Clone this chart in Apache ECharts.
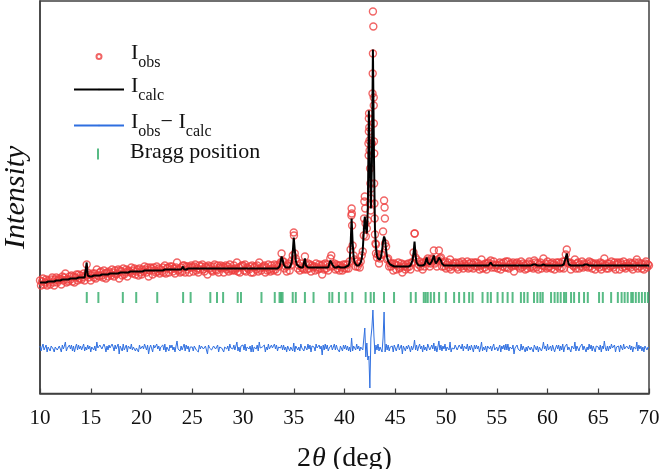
<!DOCTYPE html>
<html><head><meta charset="utf-8">
<script src="https://cdn.jsdelivr.net/npm/echarts@6/dist/echarts.min.js"></script>
<style>html,body{margin:0;padding:0;background:#fff}#c{width:661px;height:469px}</style>
</head><body><div id="c"></div>
<script>
// 2θ scan: first angle and step (deg)
const START = 10, STEP = 0.1;
const xTicks = [10, 15, 20, 25, 30, 35, 40, 45, 50, 55, 60, 65, 70];

// calculated intensity (a.u.), one value per step, rows = one degree
const iCalc = [
111,111,111,111,111,111,111,112,112,112,
112,112,112,112,112,113,113,113,113,113,
113,113,114,114,114,114,114,114,114,114,
115,115,115,115,115,115,115,115,116,116,
116,116,116,116,116,117,131,118,117,117,
117,117,117,118,118,118,118,118,118,118,
119,119,119,119,119,119,119,119,119,120,
120,120,120,120,120,120,120,120,121,121,
121,121,121,121,121,121,121,121,121,122,
122,122,122,122,122,122,122,122,122,122,
122,122,123,123,123,123,123,123,123,123,
123,123,123,123,123,123,123,123,123,123,
123,123,123,124,124,124,124,124,124,124,
124,124,124,124,124,124,124,124,124,124,
124,127,124,124,124,125,125,125,125,125,
125,125,125,125,125,125,125,125,125,125,
125,125,125,125,125,125,125,125,125,125,
125,125,125,125,125,125,125,125,125,125,
125,125,125,125,125,125,125,125,125,125,
125,125,125,125,125,125,125,125,125,125,
125,125,125,125,125,125,125,125,125,125,
125,125,125,125,125,125,125,125,125,125,
125,125,125,125,125,125,125,125,125,125,
125,125,125,125,125,126,127,131,137,134,
129,127,126,126,126,126,126,127,131,141,
156,144,133,129,127,127,126,126,126,126,
127,135,128,126,126,126,126,126,126,126,
126,126,126,126,126,126,126,126,126,126,
126,126,126,126,126,127,133,135,129,127,
126,126,126,126,127,127,126,126,126,126,
126,126,127,127,128,131,148,175,151,136,
131,129,128,128,128,129,131,135,144,162,
177,166,160,185,283,230,185,230,344,240,
165,146,138,135,133,134,137,143,152,157,
154,143,136,132,130,129,128,128,127,127,
127,127,127,127,127,127,127,127,127,127,
127,127,127,127,127,128,129,133,140,152,
138,131,129,128,128,128,128,128,128,129,
130,136,131,129,129,130,132,135,138,133,
130,131,133,136,137,133,130,129,128,128,
128,128,128,128,128,128,128,128,128,128,
128,128,128,128,128,128,128,128,128,128,
128,128,128,128,128,128,128,129,128,128,
128,128,128,128,128,128,128,128,128,128,
128,128,128,129,131,129,128,128,128,128,
128,128,128,128,128,128,128,128,128,128,
128,128,128,128,128,128,128,128,128,128,
128,128,128,128,128,128,128,128,128,128,
128,128,128,128,128,128,129,130,129,128,
128,128,128,128,128,128,129,128,128,128,
128,128,128,128,128,128,128,128,128,128,
128,128,128,128,128,128,129,131,136,140,
133,129,128,128,128,128,128,128,128,128,
128,128,128,128,128,128,128,129,131,129,
128,128,128,128,128,128,128,128,128,128,
128,128,128,128,128,128,128,128,128,128,
128,128,128,128,128,128,128,128,128,128,
128,128,128,128,128,128,128,128,128,128,
128,128,128,128,128,128,128,128,128,128,
128,128,128,128,128,128,128,128,128,128,
128
];

// residual Iobs - Icalc (a.u.), same steps
const iDiff = [
2,-3,1,4,-2,0,3,-4,1,-1,
-3,2,4,-1,-4,1,3,-2,0,2,
1,-4,3,-1,2,6,-3,0,-2,3,
-1,3,-3,2,-4,1,4,-2,3,-1,
2,-2,0,4,-3,1,-2,3,-1,2,
-4,1,3,-2,2,-3,6,0,-1,3,
3,-1,-3,4,1,-4,2,-2,3,0,
-2,4,1,-3,3,-1,0,4,-6,2,
1,-3,4,-2,0,3,-4,2,1,-1,
4,-2,1,3,-3,0,2,-4,3,-1,
-3,2,-1,4,1,-2,3,-6,0,3,
2,-4,3,0,-2,4,-1,2,-3,1,
-1,3,-2,4,-4,1,2,-3,3,0,
3,-2,1,-4,2,7,-1,0,-3,2,
-2,1,4,-3,3,-1,2,-4,1,3,
1,-3,2,4,-2,0,-4,3,-1,2,
4,-1,-3,2,1,-6,3,0,2,-2,
-3,2,4,-1,-2,3,-4,1,3,0,
2,-4,1,3,-1,2,-3,4,0,-2,
-1,3,-2,0,6,-3,1,-4,2,3,
3,-2,4,-3,1,0,-1,2,-4,3,
-4,1,2,-1,3,-3,6,0,-2,1,
2,3,-4,1,-2,4,-1,-3,3,0,
-2,4,-1,3,-3,1,2,0,3,-2,
3,-2,1,-4,2,4,-3,1,2,-3,
5,-4,2,3,-2,1,-3,4,0,-1,
-3,2,1,-2,4,-1,3,-4,2,0,
1,-3,4,0,-2,3,-1,2,-7,3,
-2,4,-1,3,-3,0,2,3,-2,1,
4,-2,3,-1,1,-4,2,0,-3,3,
-1,3,-2,2,-3,1,-4,10,-3,2,
3,-2,4,-1,2,-3,1,3,-2,-4,
20,-9,5,-12,-8,-40,10,20,38,12,
-6,3,-2,4,-3,1,2,-4,10,36,
-4,4,-2,3,-3,1,-1,2,-4,3,
2,-3,1,4,-2,-1,3,-6,2,0,
-3,2,-1,3,0,-4,2,-2,1,8,
-2,3,-3,1,4,-1,2,-4,3,-2,
1,-3,4,2,-2,0,3,-1,5,-3,
2,-4,1,7,-2,3,-3,2,-1,4,
-3,1,3,-2,6,-4,0,2,-1,3,
2,-2,-4,3,1,-1,4,-3,2,0,
-1,4,-3,2,-2,3,1,-4,3,-1,
3,-1,2,-4,0,6,-3,1,-2,2,
-4,2,3,-1,2,-3,1,4,-2,0,
1,-3,0,3,-4,2,-1,3,-2,4,
-2,4,-3,1,2,-1,3,-6,0,2,
3,-1,1,-3,4,-2,2,0,-4,1,
-3,2,4,-2,1,-1,-4,3,2,-2,
2,-4,1,3,-3,0,6,-1,2,-3,
4,-2,-1,2,-3,3,1,-4,0,3,
-1,3,-3,2,-2,4,-4,1,3,4,
-2,1,3,-4,2,0,-1,6,-3,2,
3,-3,1,-1,4,-2,2,0,-4,1,
-2,4,-1,3,-3,2,1,-4,2,0,
1,-2,3,-4,2,-1,7,0,-3,2,
-3,2,-1,4,0,-2,3,-4,1,3,
2,-4,3,1,-2,4,-1,-3,2,0,
-1,3,-2,2,-4,1,3,-1,6,-3,
3,-1,2,-3,1,-4,2,4,-2,1,
0
];

// additional observed points on the strong reflections (finer sampling)
const obsExtraX = [42.84, 42.88, 42.88, 42.89, 42.93, 42.44, 42.46, 42.47, 42.52, 42.55, 42.62, 42.58, 41.96, 42.04, 40.72, 40.75, 43.95, 43.98, 46.92, 35.02,
  42.36, 42.40, 42.42, 42.38, 41.93, 42.07, 42.76, 42.78, 42.80, 42.92, 42.95, 42.97, 43.05, 43.10, 40.68];
const obsExtraY = [367, 296, 288, 270, 240, 266, 253, 243, 225, 210, 205, 183, 192, 185, 180, 168, 186, 175, 160, 158,
  250, 262, 280, 238, 175, 170, 300, 320, 340, 210, 190, 175, 150, 140, 178];

// Bragg reflection positions (deg)
const braggPos = [14.61, 15.75, 18.16, 19.48, 21.55, 24.10, 24.84, 26.78, 27.44, 28.04, 29.48, 29.80, 31.82, 33.13, 33.60, 33.75, 33.90, 34.90, 35.20, 36.10, 36.95, 38.50, 38.80, 39.45, 40.11, 40.77, 42.08, 42.58, 42.90, 43.89, 44.88, 46.53, 47.02, 47.81, 48.00, 48.20, 48.50, 48.83, 49.32, 49.98, 50.80, 51.29, 51.79, 52.28, 52.62, 53.60, 54.10, 54.42, 55.08, 55.58, 56.07, 56.56, 57.38, 57.70, 58.04, 58.67, 59.00, 59.30, 59.53, 60.35, 60.70, 61.00, 61.30, 61.63, 61.83, 62.32, 62.62, 63.11, 63.60, 63.97, 65.08, 65.45, 66.27, 66.93, 67.30, 67.60, 67.90, 68.25, 68.41, 68.70, 69.00, 69.30, 69.60, 69.89];

const BRAGG_LEVEL = 96;   // vertical level of the tick row (a.u.)
const DIFF_OFFSET = 45.5; // offset of the difference curve (a.u.)

const SERIF = "'Liberation Serif','Times New Roman',serif";
const angle = i => +(START + i * STEP).toFixed(2);
const calcData = iCalc.map((v, i) => [angle(i), v]);
const obsData = iCalc.map((v, i) => [angle(i), v + iDiff[i]]).concat(obsExtraX.map((x, k) => [x, obsExtraY[k]]));
const diffData = iDiff.map((d, i) => [angle(i), d + DIFF_OFFSET]);
const braggData = braggPos.map(x => [x, BRAGG_LEVEL]);

const rich = {
  m: {fontFamily: SERIF, fontSize: 22, color: '#111', verticalAlign: 'top', lineHeight: 26},
  s: {fontFamily: SERIF, fontSize: 16, color: '#111', verticalAlign: 'top', lineHeight: 17, padding: [12, 0, 0, 0]}
};
const labels = {
  'Iobs': '{m|I}{s|obs}',
  'Icalc': '{m|I}{s|calc}',
  'Idiff': '{m|I}{s|obs}{m|− I}{s|calc}',
  'Bragg': '{m|Bragg position}'
};
function legend(name, left, top, w, h, icon, pad) {
  const item = {name: name};
  if (icon) item.icon = icon;
  return {data: [item], left: left, top: top, orient: 'vertical', padding: 0,
    itemWidth: w, itemHeight: h, selectedMode: false, symbolKeepAspect: false,
    formatter: n => labels[n], textStyle: {rich: rich, padding: pad}};
}

const chart = echarts.init(document.getElementById('c'), null, {renderer: 'canvas'});
chart.setOption({
  animation: false,
  backgroundColor: '#fff',
  grid: {left: 40, right: 12, top: 1, bottom: 75.5, containLabel: false, outerBoundsMode: 'none',
    show: true, borderColor: '#404040', borderWidth: 1.5, backgroundColor: 'transparent'},
  legend: [
    legend('Iobs', 95.5, 42.5, 5, 5, 'circle', [0, 0, 2, 24.5]),
    legend('Icalc', 73, 75.5, 50, 2, null, [0, 0, 2, 2]),
    legend('Idiff', 73, 111.5, 50, 2, null, [0, 0, 2, 2]),
    legend('Bragg', 97, 141, 2, 11, 'rect', [0, 0, 0, 26])
  ],
  xAxis: {
    type: 'value', min: xTicks[0], max: xTicks[xTicks.length - 1], interval: 5,
    axisLine: {lineStyle: {color: '#404040', width: 1.5}},
    axisTick: {inside: true, length: 5, lineStyle: {color: '#404040', width: 1.2}},
    splitLine: {show: false},
    axisLabel: {fontFamily: SERIF, fontSize: 21, color: '#111', margin: 14},
    name: '{a|2}{b|θ}{a| (deg)}', nameLocation: 'middle', nameGap: 51,
    nameTextStyle: {rich: {
      a: {fontFamily: SERIF, fontSize: 28, color: '#111'},
      b: {fontFamily: SERIF, fontSize: 28, fontStyle: 'italic', color: '#111', padding: [0, 0, 0, 1]}
    }}
  },
  yAxis: {
    type: 'value', min: 0, max: 392.5,
    axisLine: {show: true, lineStyle: {color: '#404040', width: 1.5}},
    axisTick: {show: false}, axisLabel: {show: false}, splitLine: {show: false},
    name: 'Intensity', nameLocation: 'middle', nameGap: 9,
    nameTextStyle: {fontFamily: SERIF, fontStyle: 'italic', fontSize: 30, color: '#111'}
  },
  series: [
    {name: 'Iobs', type: 'scatter', data: obsData, symbol: 'circle', symbolSize: 7,
      itemStyle: {color: 'rgba(255,255,255,0)', borderColor: '#ee3f3f', borderWidth: 1.4}, z: 2},
    {name: 'Icalc', type: 'line', data: calcData, symbol: 'none', showSymbol: false,
      lineStyle: {color: '#000', width: 2}, itemStyle: {color: '#000'}, z: 3},
    {name: 'Idiff', type: 'line', data: diffData, symbol: 'none', showSymbol: false,
      lineStyle: {color: '#2f6fe0', width: 1}, itemStyle: {color: '#2f6fe0'}, z: 3},
    {name: 'Bragg', type: 'scatter', data: braggData, symbol: 'rect', symbolSize: [2, 11],
      itemStyle: {color: '#2eaa66'}, z: 3}
  ]
});
</script>
</body></html>
